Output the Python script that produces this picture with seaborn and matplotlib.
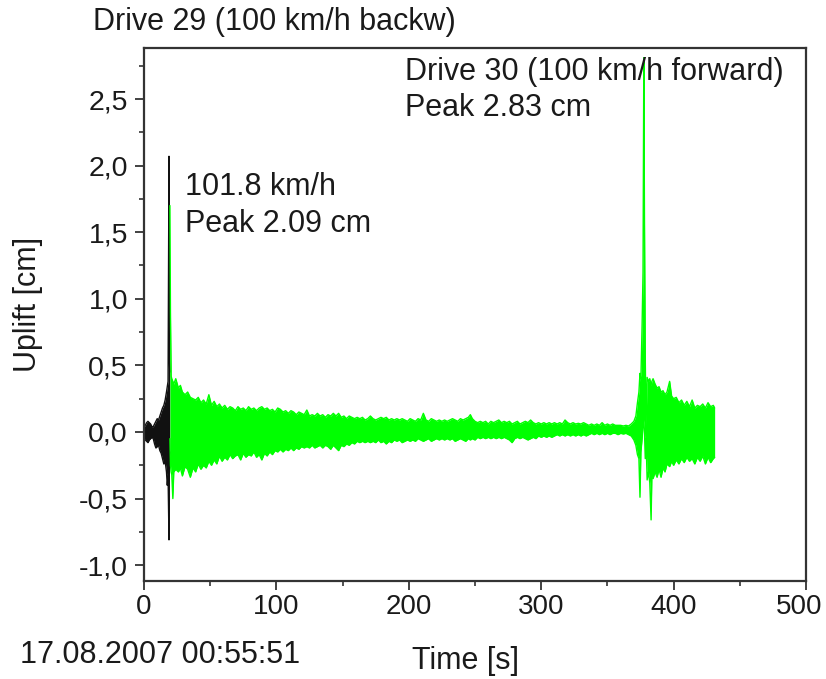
import numpy as np
import pandas as pd
import matplotlib
matplotlib.use("Agg")
import matplotlib.pyplot as plt
import matplotlib.transforms as mtransforms
from matplotlib.ticker import MultipleLocator, FuncFormatter
import seaborn as sns

# Drive 29 (backwards) - band of the uplift signal, upper / lower edge
black_t = [0, 1, 2, 3, 4, 5, 6, 7, 8, 9, 10, 11, 12, 13, 14, 15, 16,
           17, 17.6, 18.2, 18.9, 19.2, 19.5]
black_hi = [0.04, 0.05, 0.07, 0.08, 0.07, 0.06, 0.04, 0.04, 0.06, 0.08, 0.10,
            0.09, 0.12, 0.15, 0.18, 0.20, 0.24, 0.30, 0.34, 0.38, 2.07, 0.55, 0.45]
black_lo = [-0.04, -0.06, -0.07, -0.08, -0.06, -0.05, -0.04, -0.05, -0.09, -0.12,
            -0.11, -0.10, -0.14, -0.16, -0.20, -0.24, -0.22, -0.30, -0.40, -0.33,
            -0.81, -0.20, -0.15]

# Drive 30 (forward)
green_t = [19.6, 20.0, 20.5, 21.0, 21.8, 22.5, 24, 26, 27.5, 29, 31, 33, 35, 37, 39,
           41, 43, 45, 47, 49, 51, 53, 55, 57, 59, 61, 63, 65, 67, 69, 71, 73, 75,
           77, 79, 81, 83, 85, 87, 89, 91, 93, 95, 97, 99, 101, 103, 105, 107, 109,
           111, 113, 115, 117, 119, 121, 123, 125, 127, 129, 131, 133, 135, 137,
           139, 141, 143, 145, 147, 149, 151, 153, 155, 157, 159, 161, 163, 165,
           167, 169, 171, 173, 175, 177, 179, 181, 183, 185, 187, 189, 191, 193,
           195, 197, 199, 201, 203, 205, 207, 209, 211, 213, 215, 217, 219, 221,
           223, 225, 227, 229, 231, 233, 235, 237, 239, 241, 243, 245, 246.5, 248,
           250, 252, 254, 256, 258, 260, 262, 264, 266, 268, 270, 272, 274, 276,
           278, 280, 282, 284, 286, 288, 290, 292, 294, 296, 298, 300, 302, 304,
           306, 308, 310, 312, 314, 316, 318, 320, 322, 324, 326, 328, 330, 332,
           334, 336, 338, 340, 342, 344, 346, 348, 350, 352, 354, 356, 358, 360,
           362, 364, 366, 368, 370, 371.5, 372.7, 373.8, 374.6, 375.3, 376.2,
           376.9, 377.5, 378.0, 378.6, 379.2, 380, 381, 382, 383, 383.6, 384.5,
           386, 387.5, 389, 390.5, 392, 393.5, 395, 397, 398.5, 400, 402, 404, 406,
           408, 410, 412, 414, 416, 418, 420, 422, 424, 426, 428, 430, 431]
green_hi = [1.70, 0.90, 0.42, 0.40, 0.38, 0.36, 0.40, 0.33, 0.35, 0.30, 0.28, 0.30,
            0.26, 0.25, 0.24, 0.26, 0.22, 0.24, 0.21, 0.28, 0.20, 0.23, 0.19, 0.21,
            0.18, 0.20, 0.17, 0.19, 0.18, 0.16, 0.19, 0.17, 0.18, 0.16, 0.19, 0.17,
            0.18, 0.16, 0.18, 0.19, 0.17, 0.18, 0.16, 0.17, 0.15, 0.18, 0.17, 0.15,
            0.16, 0.14, 0.16, 0.15, 0.13, 0.15, 0.14, 0.13, 0.165, 0.12, 0.13, 0.12,
            0.14, 0.12, 0.13, 0.11, 0.13, 0.12, 0.14, 0.12, 0.14, 0.11, 0.12, 0.10,
            0.12, 0.11, 0.10, 0.11, 0.10, 0.11, 0.09, 0.10, 0.12, 0.10, 0.09, 0.10,
            0.11, 0.10, 0.11, 0.09, 0.10, 0.09, 0.10, 0.09, 0.10, 0.09, 0.08, 0.10,
            0.09, 0.08, 0.10, 0.09, 0.14, 0.09, 0.08, 0.10, 0.09, 0.08, 0.09, 0.08,
            0.09, 0.08, 0.09, 0.10, 0.09, 0.08, 0.10, 0.09, 0.10, 0.11, 0.13, 0.10,
            0.08, 0.07, 0.08, 0.07, 0.08, 0.06, 0.08, 0.07, 0.08, 0.09, 0.07, 0.08,
            0.07, 0.08, 0.06, 0.07, 0.08, 0.06, 0.07, 0.08, 0.07, 0.09, 0.07, 0.06,
            0.07, 0.06, 0.07, 0.06, 0.07, 0.06, 0.07, 0.06, 0.07, 0.06, 0.09, 0.07,
            0.06, 0.07, 0.06, 0.065, 0.06, 0.07, 0.06, 0.05, 0.06, 0.05, 0.06, 0.05,
            0.07, 0.05, 0.06, 0.05, 0.06, 0.05, 0.05, 0.05, 0.045, 0.05, 0.045, 0.06,
            0.08, 0.12, 0.22, 0.30, 0.44, 0.40, 0.80, 1.20, 2.81, 1.60, 0.55, 0.05,
            0.41, 0.38, 0.40, 0.35, 0.38, 0.40, 0.36, 0.33, 0.34, 0.30, 0.31, 0.28,
            0.30, 0.38, 0.27, 0.25, 0.26, 0.22, 0.24, 0.20, 0.23, 0.19, 0.24, 0.18,
            0.20, 0.19, 0.21, 0.18, 0.22, 0.19, 0.20, 0.18]
green_lo = [-0.05, -0.25, -0.30, -0.32, -0.50, -0.30, -0.28, -0.30, -0.27, -0.33,
            -0.26, -0.28, -0.34, -0.27, -0.30, -0.24, -0.28, -0.25, -0.27, -0.22,
            -0.25, -0.21, -0.24, -0.18, -0.22, -0.19, -0.21, -0.17, -0.20, -0.18,
            -0.17, -0.21, -0.16, -0.19, -0.17, -0.18, -0.15, -0.19, -0.17, -0.21,
            -0.16, -0.18, -0.15, -0.17, -0.14, -0.15, -0.13, -0.15, -0.13, -0.14,
            -0.12, -0.14, -0.12, -0.13, -0.11, -0.12, -0.11, -0.12, -0.10, -0.12,
            -0.11, -0.10, -0.12, -0.10, -0.11, -0.13, -0.10, -0.12, -0.14, -0.10,
            -0.11, -0.09, -0.10, -0.08, -0.09, -0.07, -0.08, -0.07, -0.08, -0.07,
            -0.08, -0.07, -0.08, -0.06, -0.08, -0.07, -0.09, -0.07, -0.08, -0.06,
            -0.07, -0.06, -0.08, -0.07, -0.06, -0.07, -0.06, -0.07, -0.05, -0.06,
            -0.07, -0.06, -0.05, -0.07, -0.06, -0.05, -0.06, -0.05, -0.06, -0.05,
            -0.06, -0.05, -0.07, -0.06, -0.05, -0.06, -0.07, -0.05, -0.06, -0.05,
            -0.06, -0.04, -0.05, -0.04, -0.05, -0.04, -0.05, -0.04, -0.05, -0.04,
            -0.05, -0.04, -0.05, -0.06, -0.08, -0.05, -0.04, -0.05, -0.04, -0.05,
            -0.06, -0.05, -0.04, -0.05, -0.03, -0.04, -0.03, -0.04, -0.03, -0.04,
            -0.03, -0.02, -0.03, -0.02, -0.03, -0.02, -0.03, -0.02, -0.03, -0.02,
            -0.03, -0.02, -0.03, -0.02, -0.01, -0.02, -0.01, -0.02, -0.01, -0.02,
            -0.01, -0.02, -0.01, -0.01, -0.02, -0.01, -0.015, -0.01, -0.02, -0.03,
            -0.06, -0.10, -0.17, -0.20, -0.49, -0.15, -0.05, 0.05, 0.10, 0.0, -0.20,
            -0.05, -0.36, -0.30, -0.38, -0.66, -0.32, -0.35, -0.30, -0.34, -0.28,
            -0.34, -0.27, -0.30, -0.24, -0.26, -0.22, -0.25, -0.21, -0.24, -0.20,
            -0.23, -0.19, -0.22, -0.20, -0.24, -0.19, -0.22, -0.18, -0.24, -0.19,
            -0.23, -0.20, -0.19]

x_ticks = [0, 100, 200, 300, 400, 500]
x_labels = ["0", "100", "200", "300", "400", "500"]

black = pd.DataFrame({"t": black_t, "hi": black_hi, "lo": black_lo})
green = pd.DataFrame({"t": green_t, "hi": green_hi, "lo": green_lo})

sns.set_style("ticks")
plt.rcParams["font.family"] = ["Liberation Sans", "DejaVu Sans"]
txt = "#1a1a1a"

fig = plt.figure(figsize=(8.26, 6.79), dpi=100)
ax = fig.add_axes([0.1743, 0.1443, 0.8015, 0.785])

for df, col in [(black, "#111111"), (green, "#00ff00")]:
    ax.fill_between(df["t"], df["lo"], df["hi"], color=col, lw=0)
    sns.lineplot(data=df, x="t", y="hi", ax=ax, color=col, lw=1,
                 estimator=None, sort=False)
    sns.lineplot(data=df, x="t", y="lo", ax=ax, color=col, lw=1,
                 estimator=None, sort=False)

ax.set_xlim(0, 500)
ax.set_ylim(-1.119, 2.883)
ax.set_xticks(x_ticks)
ax.xaxis.set_minor_locator(MultipleLocator(50))
ax.yaxis.set_major_locator(MultipleLocator(0.5))
ax.yaxis.set_minor_locator(MultipleLocator(0.25))
ax.yaxis.set_major_formatter(FuncFormatter(lambda v, p: f"{v:.1f}".replace(".", ",")))
ax.tick_params(which="major", length=6.5, width=1.3, labelsize=20.5, colors="#333333",
               labelcolor=txt, pad=5)
ax.tick_params(which="minor", length=3.6, width=1.2, colors="#333333")
ax.tick_params(axis="x", pad=3)
for s in ax.spines.values():
    s.set_linewidth(1.6)
    s.set_color("#333333")
ax.set_xlabel("")
ax.set_ylabel("")

# x tick labels as own texts so the "500" stays inside the canvas
ax.set_xticklabels([""] * len(x_ticks))
xtrans = ax.get_xaxis_transform()
for v, lab in zip(x_ticks, x_labels):
    shift = -7 if v == 500 else 0
    ax.text(v, 0, lab, transform=xtrans + mtransforms.ScaledTranslation(
        shift / 100, -26 / 100, fig.dpi_scale_trans),
        ha="center", va="center", fontsize=20, color=txt, clip_on=False)

fig.text(0.034, 0.551, "Uplift [cm]", rotation=90, ha="center", va="center",
         fontsize=22, color=txt)
fig.text(0.563, 0.0265, "Time [s]", ha="center", va="center", fontsize=22, color=txt)
fig.text(0.0242, 0.0353, "17.08.2007 00:55:51", ha="left", va="center",
         fontsize=22, color=txt)
fig.text(0.1126, 0.9676, "Drive 29 (100 km/h backw)", ha="left", va="center",
         fontsize=22, color=txt)
fig.text(0.4903, 0.894, "Drive 30 (100 km/h forward)", ha="left", va="center",
         fontsize=22, color=txt)
fig.text(0.4903, 0.841, "Peak 2.83 cm", ha="left", va="center", fontsize=22, color=txt)
fig.text(0.224, 0.7246, "101.8 km/h", ha="left", va="center", fontsize=22, color=txt)
fig.text(0.224, 0.670, "Peak 2.09 cm", ha="left", va="center", fontsize=22, color=txt)

fig.savefig("out.png", dpi=100)
